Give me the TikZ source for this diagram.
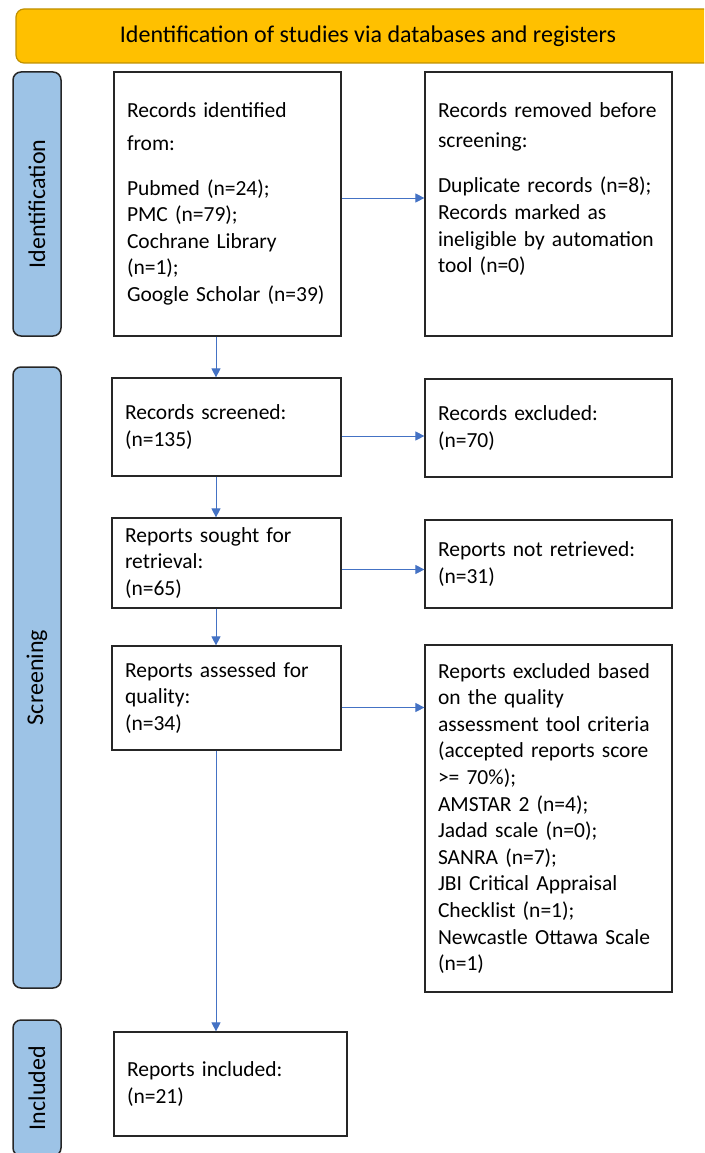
\documentclass[tikz,border=0pt]{standalone}
\usepackage{fontspec}
\setmainfont{Carlito}
\usepackage{xcolor}
\usetikzlibrary{arrows.meta,calc,positioning}

\definecolor{prismagold}{HTML}{FFC000}
\definecolor{prismagoldline}{HTML}{BF9000}
\definecolor{stageblue}{HTML}{9DC3E6}
\definecolor{arrowblue}{HTML}{4472C4}

\begin{document}
\begin{tikzpicture}[x=1pt, y=-1pt,
    flowbox/.style={draw=black!85, line width=1.2pt, align=left,
        inner xsep=13pt, inner ysep=0pt,
        font=\fontsize{21.5}{26.6}\selectfont},
    stagebar/.style={draw=black!85, line width=1.5pt, fill=stageblue,
        rounded corners=8pt, rotate=90, minimum height=48pt, inner sep=0pt,
        font=\fontsize{24}{29}\selectfont},
    arr/.style={draw=arrowblue, line width=0.9pt,
        -{Triangle[length=9pt,width=9pt]}}]

\clip (0,0) rectangle (704,1153);

    % header
    \node[draw=prismagoldline, line width=1.2pt, fill=prismagold,
        rounded corners=8pt, minimum width=704pt, minimum height=54pt,
        font=\fontsize{24}{29}\selectfont] (head) at (368,36)
        {Identification of studies via databases and registers};

    % stages
    \node[stagebar, minimum width=264pt] (stageid) at (37,204) {Identification};
    \node[stagebar, minimum width=621pt] (stagescr) at (37,677.5) {Screening};
    \node[stagebar, minimum width=136pt] (stageinc) at (37,1088) {Included};

    % left column
    \node[flowbox, text width=201pt, minimum height=264pt] (ident) at (227.5,204)
        {Records identified\\[6pt]
         from:\\[18pt]
         Pubmed (n=24);\\
         PMC (n=79);\\
         Cochrane Library\\
         (n=1);\\
         Google Scholar (n=39)};
    \node[flowbox, text width=203pt, minimum height=98pt] (screened) at (226.5,427)
        {Records screened:\\ (n=135)};
    \node[flowbox, text width=203pt, minimum height=90pt] (sought) at (226.5,563)
        {Reports sought for\\ retrieval:\\ (n=65)};
    \node[flowbox, text width=203pt, minimum height=104pt] (assessed) at (226.5,698)
        {Reports assessed for\\ quality:\\ (n=34)};
    \node[flowbox, text width=207pt, minimum height=104pt] (included) at (230.5,1084)
        {Reports included:\\ (n=21)};

    % right column
    \node[flowbox, text width=221pt, minimum height=264pt] (removed) at (548.5,204)
        {Records removed before\\[3pt]
         screening:\\[19pt]
         Duplicate records (n=8);\\
         Records marked as\\
         ineligible by automation\\
         tool (n=0)\\[6pt]
         \mbox{}};
    \node[flowbox, text width=221pt, minimum height=98pt] (excluded) at (548.5,428)
        {Records excluded:\\ (n=70)};
    \node[flowbox, text width=221pt, minimum height=88pt] (notretr) at (548.5,564)
        {Reports not retrieved:\\ (n=31)};
    \node[flowbox, text width=221pt, minimum height=347pt] (quality) at (548.5,818.5)
        {Reports excluded based\\
         on the quality\\
         assessment tool criteria\\
         (accepted reports score\\
         >= 70\%);\\
         AMSTAR 2 (n=4);\\
         Jadad scale (n=0);\\
         SANRA (n=7);\\
         JBI Critical Appraisal\\
         Checklist (n=1);\\
         Newcastle Ottawa Scale\\
         (n=1)};

    % arrows
    \coordinate (spine) at (216,0);
    \foreach \a/\b in {ident/screened, screened/sought, sought/assessed, assessed/included}
        \draw[arr] (\a.south -| spine) -- (\b.north -| spine);
    \foreach \a/\b/\dy in {ident/removed/6, screened/excluded/-9, sought/notretr/-6.5, assessed/quality/-9.5}
        \draw[arr] ([yshift=\dy pt]\a.east) -- ([yshift=\dy pt]\a.east -| \b.west);

\end{tikzpicture}
\end{document}
